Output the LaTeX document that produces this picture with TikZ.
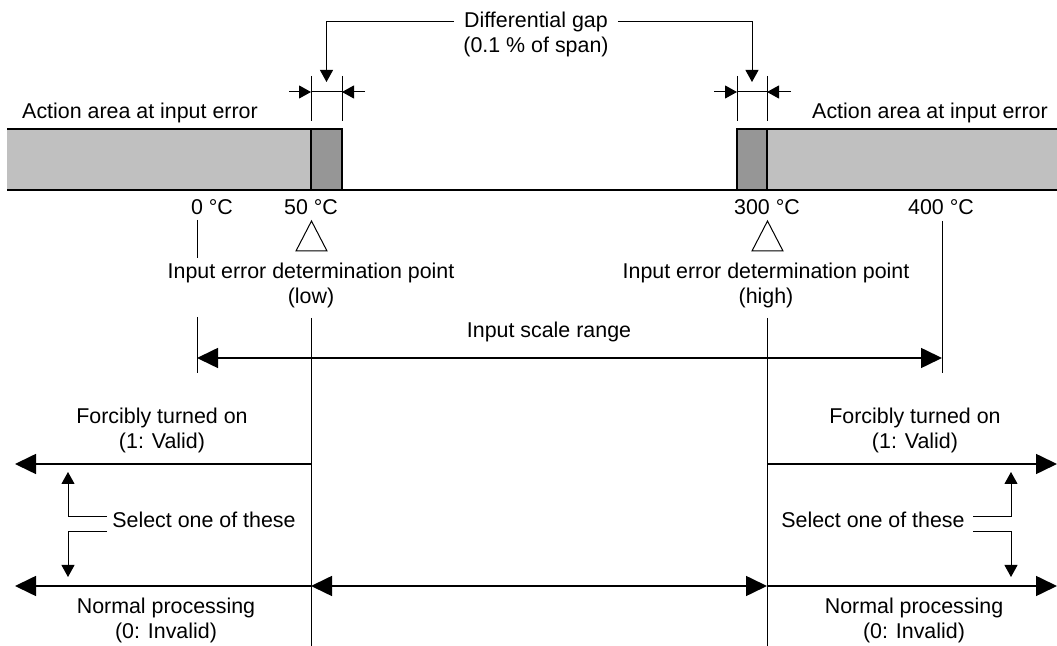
\documentclass[tikz,border=0pt]{standalone}
\usepackage{fontspec}
\setmainfont{Liberation Sans}
\usetikzlibrary{arrows.meta}
\definecolor{zonegray}{RGB}{192,192,192}
\definecolor{gapgray}{RGB}{150,150,150}

\begin{document}
\begin{tikzpicture}[
    x=0.5pt, y=-0.5pt,
    font=\fontsize{10.7}{12.5}\selectfont,
    lbl/.style={inner sep=0pt, align=center},
    bar/.style={line width=1pt},
    thin line/.style={line width=0.5pt},
    arr/.style={-{Triangle[length=10.5pt,width=10pt]}, line width=0.8pt},
    arrs/.style={{Triangle[length=10.5pt,width=10pt]}-{Triangle[length=10.5pt,width=10pt]}, line width=0.8pt},
    dimarr/.style={-{Triangle[length=6pt,width=6.5pt]}, line width=0.5pt},
    sel/.style={-{Triangle[length=6pt,width=6.5pt]}, line width=0.5pt}
]
\useasboundingbox (0,0) rectangle (1057,646);

% key positions on the scale
\coordinate (zero) at (197,0);
\coordinate (lo)   at (311,0);
\coordinate (loG)  at (342,0);
\coordinate (hiG)  at (737,0);
\coordinate (hi)   at (767,0);
\coordinate (full) at (942,0);
\coordinate (wend) at (15,0);
\coordinate (eend) at (1057,0);
\coordinate (onrow)  at (0,464);
\coordinate (offrow) at (0,586);

% action areas at input error
\fill[zonegray] (7,129) rectangle (311,190);
\fill[gapgray]  (311,129) rectangle (342,190);
\fill[gapgray]  (737,129) rectangle (767,190);
\fill[zonegray] (767,129) rectangle (1057,190);
\draw[bar] (7,129) -- (342,129) -- (342,190);
\draw[bar] (311,129) -- (311,190);
\draw[bar] (1057,129) -- (737,129) -- (737,190);
\draw[bar] (767,129) -- (767,190);
\draw[bar] (7,190) -- (1057,190);

\node[lbl, anchor=base] (errL) at (140,119) {Action area at input error};
\node[lbl, anchor=base] (errR) at (930,119) {Action area at input error};

% differential gap
\foreach \x in {311,342,737,767}
    \draw[thin line] (\x,76) -- (\x,121);
\draw[dimarr] (289,92) -- (311,92);
\draw[thin line] (311,92) -- (342,92);
\draw[dimarr] (365,92) -- (342,92);
\draw[dimarr] (714,92) -- (737,92);
\draw[thin line] (737,92) -- (767,92);
\draw[dimarr] (791,92) -- (767,92);

\node[lbl, inner xsep=4.5pt] (gap) at (536,34) {Differential gap\\(0.1 \% of span)};
\coordinate (gaprow) at (0,22);
\coordinate (lotip) at (326.5,82);
\coordinate (hitip) at (752,82);
\draw[dimarr] (gap.west |- gaprow) -| (lotip);
\draw[dimarr] (gap.east |- gaprow) -| (hitip);

% temperatures
\node[lbl, anchor=base] (t0)   at (212,215) {0 °C};
\node[lbl, anchor=base] (t50)  at (311,215) {50 °C};
\node[lbl, anchor=base] (t300) at (767,215) {300 °C};
\node[lbl, anchor=base] (t400) at (941,215) {400 °C};

% determination points
\draw[thin line] (296,251) -- (311.5,221) -- (327,251) -- cycle;
\draw[thin line] (752,251) -- (767.5,221) -- (783,251) -- cycle;
\node[lbl] (ptlo) at (311,285) {Input error determination point\\(low)};
\node[lbl] (pthi) at (766,285) {Input error determination point\\(high)};

% input scale range
\draw[thin line] (197,220) -- (197,258);
\draw[thin line] (197,317) -- (197,373);
\draw[thin line] (942,221) -- (942,373);
\draw[thin line] (311,318) -- (311,646);
\draw[thin line] (767,318) -- (767,646);
\node[lbl, anchor=base] (scale) at (549,338) {Input scale range};
\draw[arrs] (zero |- 0,358) -- (full |- 0,358);

% output at input error
\node[lbl] (onL)  at (162,430) {Forcibly turned on\\(1: Valid)};
\node[lbl] (onR)  at (915,430) {Forcibly turned on\\(1: Valid)};
\node[lbl] (offL) at (166,620) {Normal processing\\(0: Invalid)};
\node[lbl] (offR) at (914,620) {Normal processing\\(0: Invalid)};
\draw[arr]  (lo |- onrow)  -- (wend |- onrow);
\draw[arr]  (hi |- onrow)  -- (eend |- onrow);
\draw[arr]  (lo |- offrow) -- (wend |- offrow);
\draw[arrs] (lo |- offrow) -- (hi |- offrow);
\draw[arr]  (hi |- offrow) -- (eend |- offrow);

% select one of these
\node[lbl, anchor=base] (selL) at (204,528) {Select one of these};
\node[lbl, anchor=base] (selR) at (873,528) {Select one of these};
\draw[sel] (107,517) -| (68,472);
\draw[sel] (107,532) -| (68,577);
\draw[sel] (973,517) -| (1011,472);
\draw[sel] (973,532) -| (1011,577);
\end{tikzpicture}
\end{document}
